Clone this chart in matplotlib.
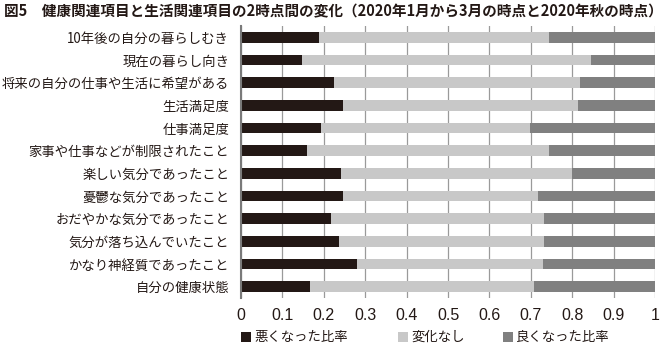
import matplotlib
matplotlib.use("Agg")
import matplotlib.pyplot as plt
from matplotlib.patches import Rectangle
import numpy as np

plt.rcParams['font.family'] = ['Noto Sans CJK JP', 'DejaVu Sans']

categories = [
    "10年後の自分の暮らしむき",
    "現在の暮らし向き",
    "将来の自分の仕事や生活に希望がある",
    "生活満足度",
    "仕事満足度",
    "家事や仕事などが制限されたこと",
    "楽しい気分であったこと",
    "憂鬱な気分であったこと",
    "おだやかな気分であったこと",
    "気分が落ち込んでいたこと",
    "かなり神経質であったこと",
    "自分の健康状態",
]
worse = [0.188, 0.147, 0.225, 0.246, 0.193, 0.159, 0.242, 0.246, 0.217, 0.237, 0.279, 0.166]
unchanged = [0.556, 0.698, 0.593, 0.567, 0.505, 0.584, 0.558, 0.471, 0.515, 0.496, 0.450, 0.541]
better = [1 - w - u for w, u in zip(worse, unchanged)]

series_names = ["悪くなった比率", "変化なし", "良くなった比率"]
colors = ["#231815", "#c8c8c8", "#808080"]
xticks = [0, 0.1, 0.2, 0.3, 0.4, 0.5, 0.6, 0.7, 0.8, 0.9, 1]
xtick_labels = ["0", "0.1", "0.2", "0.3", "0.4", "0.5", "0.6", "0.7", "0.8", "0.9", "1"]

W, H = 665, 349
fig = plt.figure(figsize=(W / 100, H / 100), dpi=100)
ax = fig.add_axes([241 / W, 1 - 298 / H, 414 / W, 272 / H])

y = np.arange(len(categories))
left = np.zeros(len(categories))
for vals, c, name in zip([worse, unchanged, better], colors, series_names):
    ax.barh(y, vals, left=left, height=0.47, color=c, edgecolor='none', label=name, zorder=3)
    left = left + np.array(vals)

ax.set_ylim(len(categories) - 0.5, -0.5)
ax.set_xlim(0, 1)
ax.set_yticks(y)
ax.set_yticklabels(categories, fontsize=9.6, color='#231815')
ax.set_xticks(xticks)
ax.set_xticklabels(xtick_labels, fontsize=11.5, color='#231815', family=['Liberation Sans', 'DejaVu Sans'])
ax.tick_params(axis='y', length=0, pad=8.5)
ax.tick_params(axis='x', length=0, pad=7)
ax.grid(axis='x', color='#9a9a9a', linewidth=0.9, zorder=0)
for s in ['top', 'right', 'bottom']:
    ax.spines[s].set_visible(False)
ax.spines['left'].set_color('#7a7a7a')
ax.spines['left'].set_linewidth(1.5)
ax.spines['left'].set_zorder(4)

fig.text(4 / W, 1 - 11 / H, "図5　健康関連項目と生活関連項目の2時点間の変化（2020年1月から3月の時点と2020年秋の時点）",
         fontsize=10.5, fontweight='bold', color='#231815', va='center', ha='left')

# legend: square swatch followed by its label
legend_x = [241, 398, 503]
for x0, c, name in zip(legend_x, colors, series_names):
    fig.patches.append(Rectangle((x0 / W, 1 - 342 / H), 10 / W, 10 / H,
                                 transform=fig.transFigure, facecolor=c, edgecolor='none'))
    fig.text((x0 + 13) / W, 1 - 337 / H, name, fontsize=9.6, color='#231815',
             va='center', ha='left')

fig.savefig("out.png", dpi=100)
